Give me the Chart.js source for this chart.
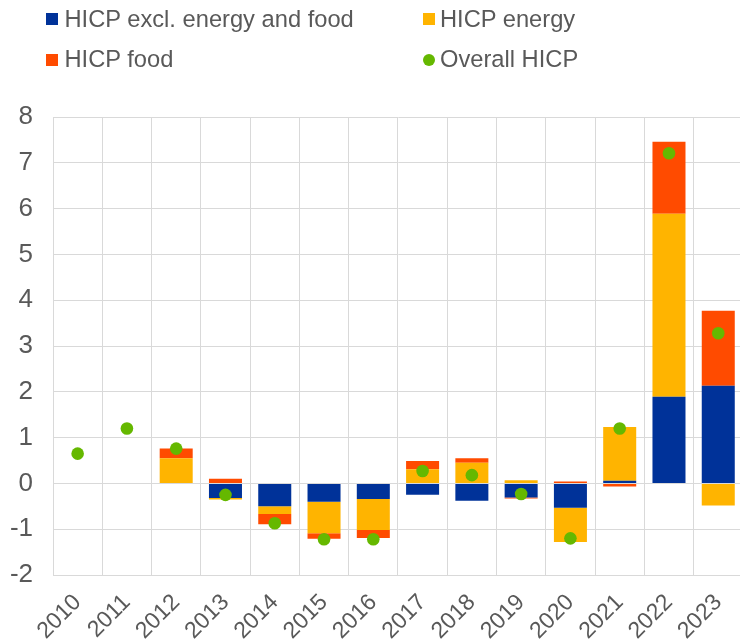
<!DOCTYPE html>
<html>
<head>
<meta charset="utf-8">
<script src="https://cdn.jsdelivr.net/npm/chart.js@4"></script>
<style>
  html, body { margin: 0; padding: 0; background: #fff; overflow: hidden; width: 740px; height: 643px; }
  #wrap { position: absolute; left: 0; top: 0; width: 752px; height: 643px; }
  .lg { position: absolute; font-family: "Liberation Sans", Arial, sans-serif; font-size: 23.7px; line-height: 24px; color: #595959; white-space: nowrap; }
  .sw { position: absolute; width: 12px; height: 12px; }
</style>
</head>
<body>
<div id="wrap"><canvas id="c"></canvas></div>
<div class="sw" style="left:46px;top:13px;background:#003299"></div>
<div class="lg" style="left:64.5px;top:6.5px">HICP excl. energy and food</div>
<div class="sw" style="left:423px;top:13px;background:#ffb400"></div>
<div class="lg" style="left:440px;top:6.5px">HICP energy</div>
<div class="sw" style="left:46px;top:54px;background:#ff4b00"></div>
<div class="lg" style="left:64.5px;top:46.5px">HICP food</div>
<div class="sw" style="left:422.7px;top:53.5px;width:12.6px;height:12.6px;border-radius:50%;background:#65b800"></div>
<div class="lg" style="left:440px;top:46.5px">Overall HICP</div>
<script>
const years = ['2010','2011','2012','2013','2014','2015','2016','2017','2018','2019','2020','2021','2022','2023'];
const coreHICP = [null, null, 0, -0.32, -0.50, -0.40, -0.34, -0.25, -0.38, -0.31, -0.53, 0.06, 1.89, 2.13];
const energyHICP = [null, null, 0.55, -0.03, -0.17, -0.69, -0.68, 0.31, 0.45, 0.07, -0.75, 1.17, 4.00, -0.48];
const foodHICP = [null, null, 0.21, 0.10, -0.22, -0.12, -0.17, 0.18, 0.10, -0.02, 0.04, -0.07, 1.57, 1.64];
const overallHICP = [0.65, 1.20, 0.76, -0.25, -0.87, -1.22, -1.22, 0.27, 0.18, -0.23, -1.20, 1.20, 7.21, 3.28];
const yTicks = [-2, -1, 0, 1, 2, 3, 4, 5, 6, 7, 8];

const gridColor = '#d9d9d9';
const textColor = '#595959';
const fontFam = '"Liberation Sans", Arial, sans-serif';

new Chart(document.getElementById('c'), {
  type: 'bar',
  data: {
    labels: years,
    datasets: [
      { label: 'HICP excl. energy and food', data: coreHICP, backgroundColor: '#003299', order: 1, stack: 's' },
      { label: 'HICP energy', data: energyHICP, backgroundColor: '#ffb400', order: 1, stack: 's' },
      { label: 'HICP food', data: foodHICP, backgroundColor: '#ff4b00', order: 1, stack: 's' },
      { type: 'line', label: 'Overall HICP', data: overallHICP, showLine: false, order: 0,
        pointStyle: 'circle', pointRadius: 6.3, pointHoverRadius: 6.3, pointBackgroundColor: '#65b800',
        pointBorderWidth: 0, borderColor: '#65b800', backgroundColor: '#65b800' }
    ]
  },
  options: {
    responsive: true,
    maintainAspectRatio: false,
    animation: false,
    events: [],
    layout: { padding: { top: 117, left: 0, right: 2, bottom: 0 } },
    datasets: { bar: { categoryPercentage: 1, barPercentage: 0.67 } },
    plugins: { legend: { display: false }, tooltip: { enabled: false } },
    scales: {
      x: {
        stacked: true,
        grid: { color: gridColor, lineWidth: 1, drawTicks: false, offset: true },
        border: { color: gridColor },
        ticks: { color: textColor, font: { family: fontFam, size: 23 }, minRotation: 45, maxRotation: 45, padding: 14, autoSkip: false },
        afterFit: (s) => { s.height = 68; }
      },
      y: {
        stacked: true,
        min: -2, max: 8,
        afterBuildTicks: (s) => { s.ticks = yTicks.map(v => ({ value: v })); },
        grid: { color: gridColor, lineWidth: 1, drawTicks: false },
        border: { color: gridColor },
        ticks: { color: textColor, font: { family: fontFam, size: 26 }, padding: 20 },
        afterFit: (s) => { s.width = 53; }
      }
    }
  }
});
</script>
</body>
</html>
